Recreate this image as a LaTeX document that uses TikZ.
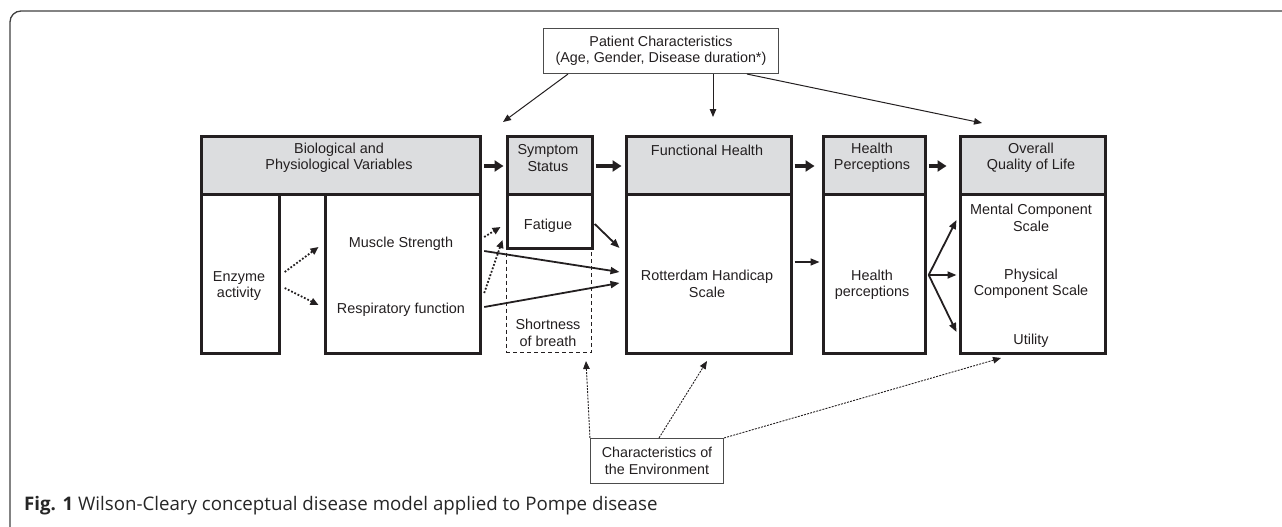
\documentclass[tikz,border=0pt]{standalone}
\usepackage{fontspec}
\setmainfont{Liberation Sans}
\newfontfamily\capfont{Open Sans}
\usetikzlibrary{arrows.meta,calc}
\definecolor{hdrgray}{HTML}{DCDDDF}
\definecolor{ink}{HTML}{231F20}
\tikzset{
  hdr/.style={draw=ink, line width=3.2pt, fill=hdrgray, inner sep=0pt, anchor=north west},
  bodybox/.style={draw=ink, line width=3.2pt, fill=white, inner sep=0pt, anchor=north west},
  dashbox/.style={draw=ink, line width=1.3pt, dash pattern=on 4pt off 3pt, inner sep=0pt, anchor=north west},
  thinbox/.style={draw=black!70, line width=1.1pt, fill=white, inner sep=0pt, align=center,
     font=\fontsize{14.3}{16.5}\selectfont, text=ink},
  lbl/.style={align=center, font=\fontsize{14.4}{16.5}\selectfont, text=ink, inner sep=0pt},
  bigarrow/.style={draw=ink, line width=3.2pt, -{Triangle[length=9pt,width=11pt]}},
  solidarrow/.style={draw=ink, line width=1.8pt, -{Triangle[length=9pt,width=7pt]}},
  medarrow/.style={draw=ink, line width=1.5pt, -{Triangle[length=9pt,width=7pt]}},
  dotarrow/.style={draw=ink, line width=1.8pt, dash pattern=on 1.8pt off 1.8pt, -{Triangle[length=8pt,width=7pt]}},
  patarrow/.style={draw=ink, line width=1pt, -{Triangle[length=8pt,width=6.5pt]}},
  envarrow/.style={draw=ink, line width=0.9pt, dash pattern=on 2pt off 1.2pt, -{Triangle[length=8pt,width=6.5pt]}},
}
\begin{document}
\begin{tikzpicture}[x=1pt,y=-1pt]
\useasboundingbox (0,0) rectangle (1282,527);
% outer frame
\draw[line width=1.3pt, black!75, rounded corners=11pt] (10,528) -- (10,11) -- (1283,11);

% boxes
\node[dashbox, minimum width=85pt, minimum height=105pt] (sob) at (505.5,247) {};
\node[bodybox, minimum width=77.5pt, minimum height=159pt] (enz) at (200,193) {};
\node[bodybox, minimum width=155.5pt, minimum height=159pt] (musc) at (323.5,193) {};
\node[bodybox, minimum width=85pt, minimum height=54pt] (fat) at (505.5,193) {};
\node[bodybox, minimum width=165pt, minimum height=159pt] (funcB) at (624.5,193) {};
\node[bodybox, minimum width=102pt, minimum height=159pt] (hpB) at (821.5,193) {};
\node[bodybox, minimum width=145pt, minimum height=159pt] (qolB) at (958.5,193) {};

\node[hdr, minimum width=279pt, minimum height=58pt] (bioH) at (200,135) {};
\node[hdr, minimum width=85pt, minimum height=58pt] (sympH) at (505.5,135) {};
\node[hdr, minimum width=165pt, minimum height=58pt] (funcH) at (624.5,135) {};
\node[hdr, minimum width=102pt, minimum height=58pt] (hpH) at (821.5,135) {};
\node[hdr, minimum width=145pt, minimum height=58pt] (qolH) at (958.5,135) {};

% header labels
\node[lbl] (bioT) at (339,158) {Biological and\\Physiological Variables};
\node[lbl] (sympT) at (548,158) {Symptom\\Status};
\node[lbl] (funcT) at (707,150) {Functional Health};
\node[lbl] (hpT) at (872,158) {Health\\Perceptions};
\node[lbl] (qolT) at (1031,158) {Overall\\Quality of Life};

% body labels
\node[lbl] (enzT) at (239,286) {Enzyme\\activity};
\node[lbl] (muscT) at (401,244) {Muscle Strength};
\node[lbl] (respT) at (401,310) {Respiratory function};
\node[lbl] (fatT) at (548,226) {Fatigue};
\node[lbl] (sobT) at (548,333) {Shortness\\of breath};
\node[lbl] (rotT) at (707,284) {Rotterdam Handicap\\Scale};
\node[lbl] (hpbT) at (872,285) {Health\\perceptions};
\node[lbl] (mcsT) at (1031,218) {Mental Component\\Scale};
\node[lbl] (pcsT) at (1031,284) {Physical\\Component Scale};
\node[lbl] (utT) at (1031,341) {Utility};

% outside boxes
\node[thinbox, minimum width=235pt, minimum height=45pt] (pat) at (661,51)
  {Patient Characteristics\\(Age, Gender, Disease duration*)};
\node[thinbox, minimum width=133pt, minimum height=45pt] (env) at (657,461)
  {Characteristics of\\the Environment};

% thick header arrows
\draw[bigarrow] ([xshift=2pt]bioH.east |- 0,166) -- ([xshift=-2pt]sympH.west |- 0,166);
\draw[bigarrow] ([xshift=2pt]sympH.east |- 0,166) -- ([xshift=-3pt]funcH.west |- 0,166);
\draw[bigarrow] ([xshift=2pt]funcH.east |- 0,166) -- ([xshift=-7pt]hpH.west |- 0,166);
\draw[bigarrow] ([xshift=2pt]hpH.east |- 0,166) -- ([xshift=-12pt]qolH.west |- 0,166);

% dotted arrows
\draw[dotarrow] ([xshift=4pt]enz.east |- 0,272) -- ([xshift=-5pt]musc.west |- 0,247);
\draw[dotarrow] ([xshift=4pt]enz.east |- 0,288) -- ([xshift=-5pt]musc.west |- 0,305);
\draw[dotarrow] ([xshift=2pt]musc.east |- 0,237) -- ([xshift=-5pt]fat.west |- 0,227);
\draw[dotarrow] ([xshift=2pt]musc.east |- 0,293) -- ([xshift=-3pt]fat.west |- 0,240);

% solid arrows into functional health
\draw[solidarrow] ([xshift=2pt]musc.east |- 0,251) -- ([xshift=-5pt]funcB.west |- 0,272);
\draw[solidarrow] ([xshift=2pt]musc.east |- 0,307) -- ([xshift=-5pt]funcB.west |- 0,283);
\draw[solidarrow] ([xshift=1pt]fat.east |- 0,224) -- ([xshift=-5pt]funcB.west |- 0,248);

% functional -> health perceptions
\draw[medarrow] ([xshift=2pt]funcB.east |- 0,262) -- ([xshift=-2pt]hpB.west |- 0,262);

% health perceptions -> overall
\draw[solidarrow] ([xshift=2pt]hpB.east |- 0,275) -- ([xshift=-2pt]qolB.west |- 0,220);
\draw[solidarrow] ([xshift=2pt]hpB.east |- 0,275) -- ([xshift=-2pt]qolB.west |- 0,275);
\draw[solidarrow] ([xshift=2pt]hpB.east |- 0,275) -- ([xshift=-2pt]qolB.west |- 0,332);

% patient characteristics arrows
\coordinate (p1) at (503,122);
\coordinate (p2) at (713,117);
\coordinate (p3) at (982,123);
\draw[patarrow] (568,0 |- pat.south) -- (p1);
\draw[patarrow] (713,0 |- pat.south) -- (p2);
\draw[patarrow] (747,0 |- pat.south) -- (p3);

% environment arrows
\coordinate (e1) at (586,361);
\coordinate (e2) at (707,361);
\coordinate (e3) at (1001,358);
\draw[envarrow] (env.north west) -- (e1);
\draw[envarrow] (659,0 |- env.north) -- (e2);
\draw[envarrow] (env.north east) -- (e3);

% caption
\node[anchor=west, inner sep=0pt, text=black!85, font=\capfont\fontsize{18.7}{22}\selectfont] (cap) at (24,506)
  {\textbf{Fig. 1} Wilson-Cleary conceptual disease model applied to Pompe disease};
\end{tikzpicture}
\end{document}
